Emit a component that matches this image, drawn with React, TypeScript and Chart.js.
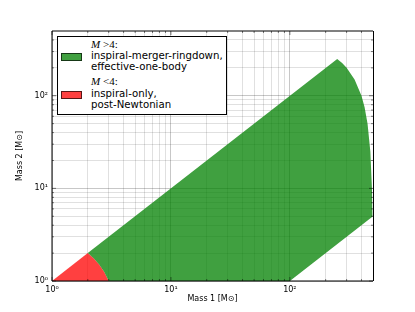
import React, { useEffect, useRef } from 'react';
import { Chart, registerables } from 'chart.js';

Chart.register(...registerables);

// ---- data ----
const majorTicks = [1, 10, 100];
const minorTicks = [2, 3, 4, 5, 6, 7, 8, 9, 20, 30, 40, 50, 60, 70, 80, 90, 200, 300, 400];
const majorTickLabels = ['10⁰', '10¹', '10²'];

// green region (M > 4): upper boundary and lower boundary
const greenUpperM1 = [2, 250, 275, 300, 350, 400, 425, 450, 475, 490, 495, 500];
const greenUpperM2 = [2, 250, 225, 200, 150, 100, 75, 50, 25, 10, 5, 5];
const greenLowerM1 = [2, 2.25, 2.5, 2.75, 3, 100, 500];
const greenLowerM2 = [2, 1.75, 1.5, 1.25, 1, 1, 5];

// red region (M < 4): upper boundary (filled down to the axis)
const redUpperM1 = [1, 2, 2.25, 2.5, 2.75, 3];
const redUpperM2 = [1, 2, 1.75, 1.5, 1.25, 1];

const GREEN = 'rgba(0,128,0,0.75)';
const RED = 'rgba(255,0,0,0.75)';
const FONT = 'DejaVu Sans';

const allTicks = [...majorTicks, ...minorTicks].sort((a, b) => a - b);

const toPoints = (xs: number[], ys: number[]) => xs.map((x, i) => ({ x, y: ys[i] }));

const framePlugin = {
  id: 'frame',
  afterDraw(chart: any) {
    const { ctx, chartArea } = chart;
    const { left, top, right, bottom } = chartArea;
    ctx.save();
    // inward tick marks
    ctx.strokeStyle = 'rgba(0,0,0,0.7)';
    ctx.lineWidth = 0.7;
    const xs = chart.scales.x;
    const ys = chart.scales.y;
    allTicks.forEach((v) => {
      const len = majorTicks.includes(v) ? 4 : 2;
      const px = xs.getPixelForValue(v);
      if (px >= left && px <= right) {
        ctx.beginPath();
        ctx.moveTo(px, bottom); ctx.lineTo(px, bottom - len);
        ctx.moveTo(px, top); ctx.lineTo(px, top + len);
        ctx.stroke();
      }
      const py = ys.getPixelForValue(v);
      if (py >= top && py <= bottom) {
        ctx.beginPath();
        ctx.moveTo(left, py); ctx.lineTo(left + len, py);
        ctx.moveTo(right, py); ctx.lineTo(right - len, py);
        ctx.stroke();
      }
    });
    // frame
    ctx.strokeStyle = '#000';
    ctx.lineWidth = 1;
    ctx.beginPath();
    ctx.moveTo(left, top); ctx.lineTo(left, bottom);
    ctx.moveTo(left, bottom); ctx.lineTo(right, bottom);
    ctx.moveTo(left, top); ctx.lineTo(right, top);
    ctx.stroke();
    ctx.beginPath();
    ctx.moveTo(right + 0.5, top); ctx.lineTo(right + 0.5, bottom);
    ctx.stroke();
    ctx.restore();
  },
};

function gridColor(ctx: any) {
  const v = ctx.tick ? ctx.tick.value : null;
  return majorTicks.includes(v) ? 'rgba(0,0,0,0.22)' : 'rgba(0,0,0,0.12)';
}

function tickLabel(value: any) {
  const i = majorTicks.indexOf(Number(value));
  return i >= 0 ? majorTickLabels[i] : '';
}

function setTicks(scale: any) {
  scale.ticks = allTicks.map((v) => ({ value: v, major: majorTicks.includes(v) }));
}

export default function App() {
  const canvasRef = useRef<HTMLCanvasElement | null>(null);

  useEffect(() => {
    if (!canvasRef.current) return;
    Chart.defaults.font.family = FONT;
    const chart = new Chart(canvasRef.current, {
      type: 'line',
      data: {
        datasets: [
          {
            label: 'M>4 upper',
            data: toPoints(greenUpperM1, greenUpperM2),
            borderColor: 'transparent',
            borderWidth: 0,
            backgroundColor: GREEN,
            fill: '+1',
            pointRadius: 0,
            tension: 0,
          },
          {
            label: 'M>4 lower',
            data: toPoints(greenLowerM1, greenLowerM2),
            borderColor: 'transparent',
            borderWidth: 0,
            backgroundColor: 'transparent',
            fill: false,
            pointRadius: 0,
            tension: 0,
          },
          {
            label: 'M<4',
            data: toPoints(redUpperM1, redUpperM2),
            borderColor: 'transparent',
            borderWidth: 0,
            backgroundColor: RED,
            fill: 'start',
            pointRadius: 0,
            tension: 0,
          },
        ],
      },
      options: {
        animation: false,
        responsive: true,
        maintainAspectRatio: false,
        layout: { padding: { left: 0, top: 31, right: 42, bottom: 0 } },
        plugins: { legend: { display: false }, tooltip: { enabled: false } },
        scales: {
          x: {
            type: 'logarithmic',
            min: 1,
            max: 500,
            afterBuildTicks: setTicks,
            afterFit: (s: any) => { s.height = 31; },
            grid: { color: gridColor, drawTicks: false, lineWidth: 1 },
            border: { display: false },
            ticks: {
              autoSkip: false,
              maxRotation: 0,
              padding: 4,
              color: '#000',
              font: { family: FONT, size: 8 },
              callback: tickLabel,
            },
            title: {
              display: true,
              text: 'Mass 1 [M⊙]',
              color: '#000',
              font: { family: FONT, size: 8 },
              padding: { top: 0, bottom: 8 },
            },
          },
          y: {
            type: 'logarithmic',
            min: 1,
            max: 500,
            afterBuildTicks: setTicks,
            afterFit: (s: any) => { s.width = 52; },
            grid: { color: gridColor, drawTicks: false, lineWidth: 1 },
            border: { display: false },
            ticks: {
              autoSkip: false,
              padding: 4,
              color: '#000',
              font: { family: FONT, size: 8 },
              callback: tickLabel,
            },
            title: {
              display: true,
              text: 'Mass 2 [M⊙]',
              color: '#000',
              font: { family: FONT, size: 8 },
              padding: { top: 15, bottom: 0 },
            },
          },
        },
      },
      plugins: [framePlugin],
    } as any);
    return () => chart.destroy();
  }, []);

  const textStyle: React.CSSProperties = {
    position: 'absolute',
    left: 91,
    fontFamily: FONT,
    fontSize: 10.2,
    lineHeight: '12px',
    whiteSpace: 'nowrap',
    color: '#000',
  };
  const mathStyle: React.CSSProperties = {
    position: 'absolute',
    left: 91,
    fontFamily: '"Liberation Serif", serif',
    fontSize: 11,
    lineHeight: '12px',
    whiteSpace: 'nowrap',
    color: '#000',
  };
  const swatch = (top: number, color: string): React.CSSProperties => ({
    position: 'absolute',
    left: 61,
    top,
    width: 21,
    height: 8,
    boxSizing: 'border-box',
    background: color,
    border: '1px solid rgba(0,0,0,0.65)',
  });

  return (
    <div style={{ position: 'fixed', left: 0, top: 0, width: 415, height: 312, background: '#fff' }}>
      <canvas ref={canvasRef} />
      <div
        style={{
          position: 'absolute',
          left: 57,
          top: 36,
          width: 170,
          height: 79,
          boxSizing: 'border-box',
          border: '1px solid #000',
          background: '#fff',
        }}
      />
      <div style={{ ...mathStyle, top: 38 }}><i>M</i> &gt;4:</div>
      <div style={swatch(53, GREEN)} />
      <div style={{ ...textStyle, top: 50 }}>inspiral-merger-ringdown,</div>
      <div style={{ ...textStyle, top: 61 }}>effective-one-body</div>
      <div style={{ ...mathStyle, top: 75 }}><i>M</i> &lt;4:</div>
      <div style={swatch(91, RED)} />
      <div style={{ ...textStyle, top: 88 }}>inspiral-only,</div>
      <div style={{ ...textStyle, top: 99 }}>post-Newtonian</div>
    </div>
  );
}
